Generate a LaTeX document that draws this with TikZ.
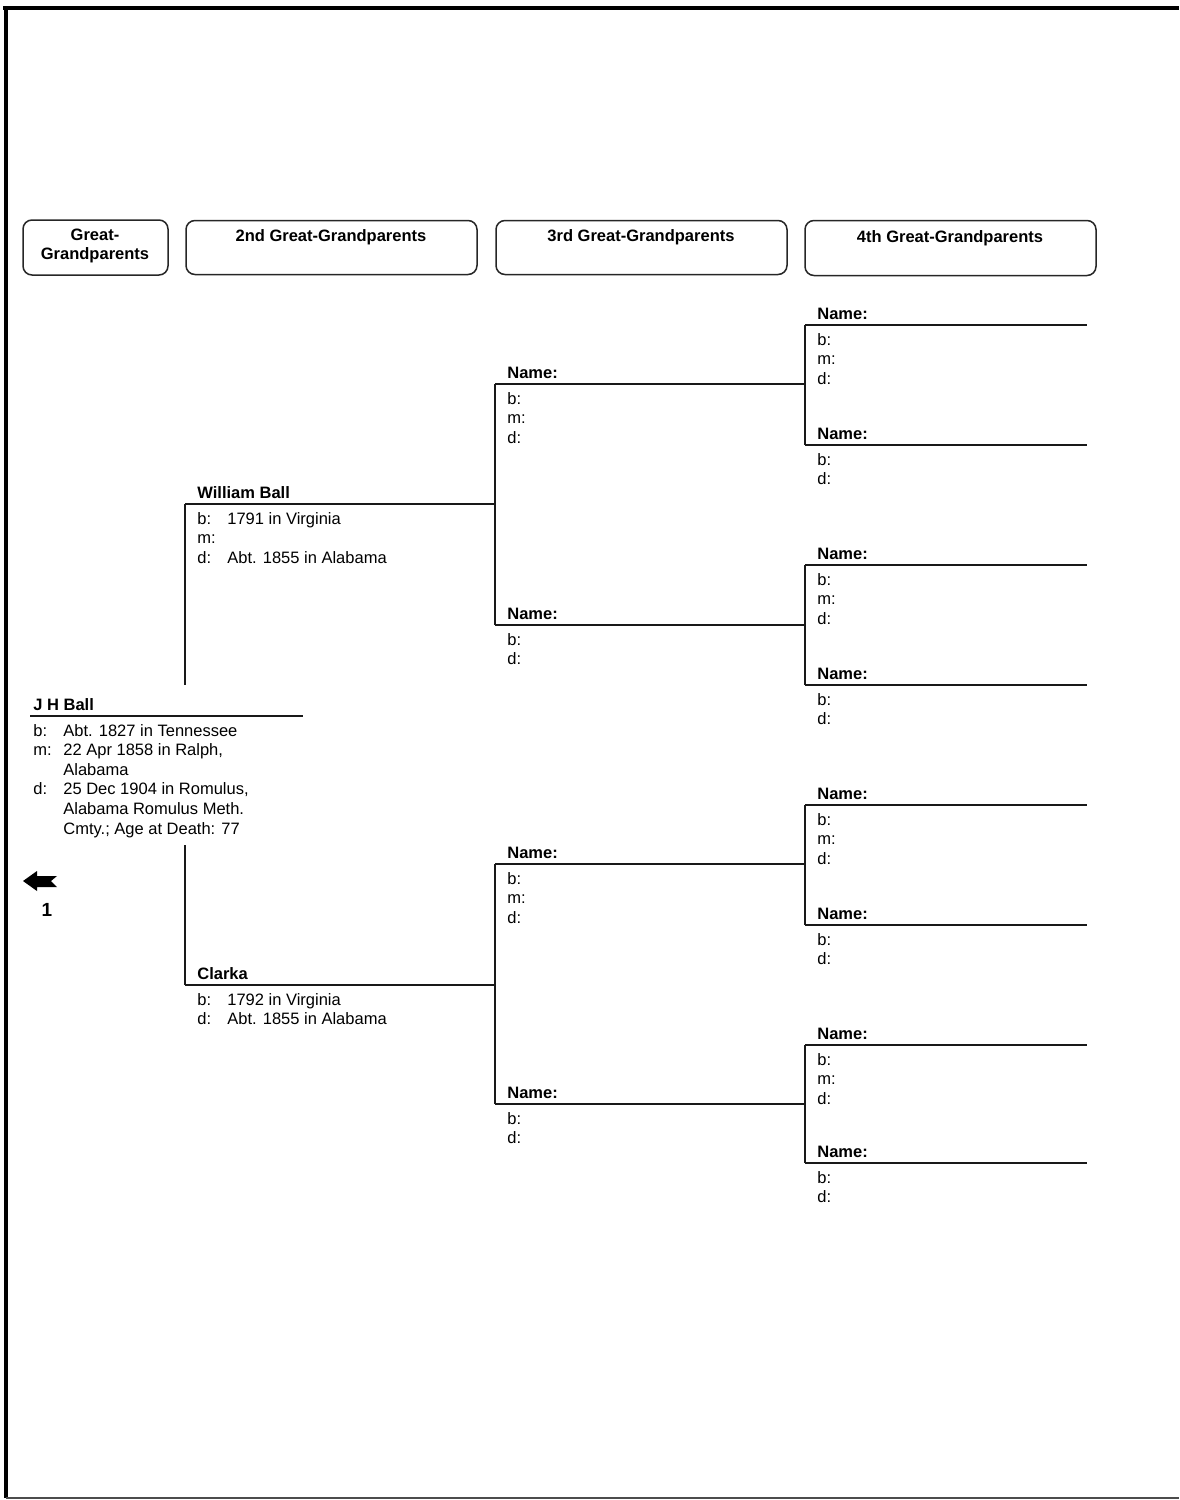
\documentclass[tikz,border=0pt]{standalone}
\usepackage{fontspec}
\setmainfont{Liberation Sans}
\newcommand\lb[1]{\makebox[15pt][l]{#1}}
\newcommand\pers[7]{%
  \coordinate (#1L) at (#2,#4);
  \coordinate (#1R) at (#3,#4);
  \draw[treeline] (#1L) -- (#1R);
  \node[txt,font=\fontsize{8.25}{9.8}\selectfont\bfseries,anchor=base west] (#1n) at (#5,#4-6) {#6};
  \node[txt,anchor=base west] (#1d) at (#5,#4+20) {\begin{tabular}[t]{@{}l@{}}#7\end{tabular}};
}
\begin{document}
\begin{tikzpicture}[x=0.5pt,y=-0.5pt,
  treeline/.style={line width=0.7pt,draw=black!90},
  txt/.style={inner sep=0pt,font=\fontsize{8.25}{9.8}\selectfont,text=black},
  hbox/.style={draw=black!85,line width=0.75pt,rounded corners=4.5pt,inner sep=0pt},
  htxt/.style={inner sep=0pt,font=\fontsize{8.25}{9.2}\selectfont\bfseries,align=center,text=black}]
\useasboundingbox (0,0) rectangle (1179,1500);
% page border
\draw[line width=2pt] (3,8) -- (1179,8);
\draw[line width=1.6pt] (6,8) -- (6,1498);
\draw[line width=0.8pt,black!70] (6,1498) -- (1179,1498);
% headers
\node[hbox,minimum width=72.5pt,minimum height=27.5pt] (h1) at (95.5,247.5) {};
\node[htxt] (h1t) at (95,246) {Great-\\Grandparents};
\node[hbox,minimum width=145.5pt,minimum height=27pt] (h2) at (331.5,247.5) {};
\node[htxt] (h2t) at (331,237) {2nd Great-Grandparents};
\node[hbox,minimum width=145.5pt,minimum height=27pt] (h3) at (641.5,247.5) {};
\node[htxt] (h3t) at (641,237) {3rd Great-Grandparents};
\node[hbox,minimum width=145.5pt,minimum height=27.5pt] (h4) at (950.5,248) {};
\node[htxt] (h4t) at (950,238) {4th Great-Grandparents};
% generation 1
\pers{jh}{30}{303}{716}{33}{J H Ball}{\lb{b:}Abt. 1827 in Tennessee\\ \lb{m:}22 Apr 1858 in Ralph,\\ \lb{}Alabama\\ \lb{d:}25 Dec 1904 in Romulus,\\ \lb{}Alabama Romulus Meth.\\ \lb{}Cmty.; Age at Death: 77}
% generation 2
\pers{wb}{185}{495}{504}{197}{William Ball}{\lb{b:}1791 in Virginia\\ \lb{m:}\\ \lb{d:}Abt. 1855 in Alabama}
\pers{cl}{185}{495}{985}{197}{Clarka}{\lb{b:}1792 in Virginia\\ \lb{d:}Abt. 1855 in Alabama}
\coordinate (gapT) at (185,685);
\coordinate (gapB) at (185,845);
\draw[treeline] (wbL) -- (gapT);
\draw[treeline] (gapB) -- (clL);
% generation 3
\pers{ga}{495}{805}{384}{507}{Name:}{b:\\ m:\\ d:}
\pers{gb}{495}{805}{625}{507}{Name:}{b:\\ d:}
\pers{gc}{495}{805}{864}{507}{Name:}{b:\\ m:\\ d:}
\pers{gd}{495}{805}{1104}{507}{Name:}{b:\\ d:}
\draw[treeline] (gaL) -- (gbL);
\draw[treeline] (gcL) -- (gdL);
% generation 4
\pers{fa}{805}{1087}{325}{817}{Name:}{b:\\ m:\\ d:}
\pers{fb}{805}{1087}{445}{817}{Name:}{b:\\ d:}
\pers{fc}{805}{1087}{565}{817}{Name:}{b:\\ m:\\ d:}
\pers{fd}{805}{1087}{685}{817}{Name:}{b:\\ d:}
\pers{fe}{805}{1087}{805}{817}{Name:}{b:\\ m:\\ d:}
\pers{ff}{805}{1087}{925}{817}{Name:}{b:\\ d:}
\pers{fg}{805}{1087}{1045}{817}{Name:}{b:\\ m:\\ d:}
\pers{fh}{805}{1087}{1163}{817}{Name:}{b:\\ d:}
\draw[treeline] (faL) -- (fbL);
\draw[treeline] (fcL) -- (fdL);
\draw[treeline] (feL) -- (ffL);
\draw[treeline] (fgL) -- (fhL);
% back arrow
\fill[black] (23,881) -- (37,871) -- (37,876) -- (57,876) -- (51,881) -- (57,887) -- (37,887) -- (37,891) -- cycle;
\node[txt,font=\fontsize{9.5}{11}\selectfont\bfseries] (pg) at (47,910) {1};
\end{tikzpicture}
\end{document}
